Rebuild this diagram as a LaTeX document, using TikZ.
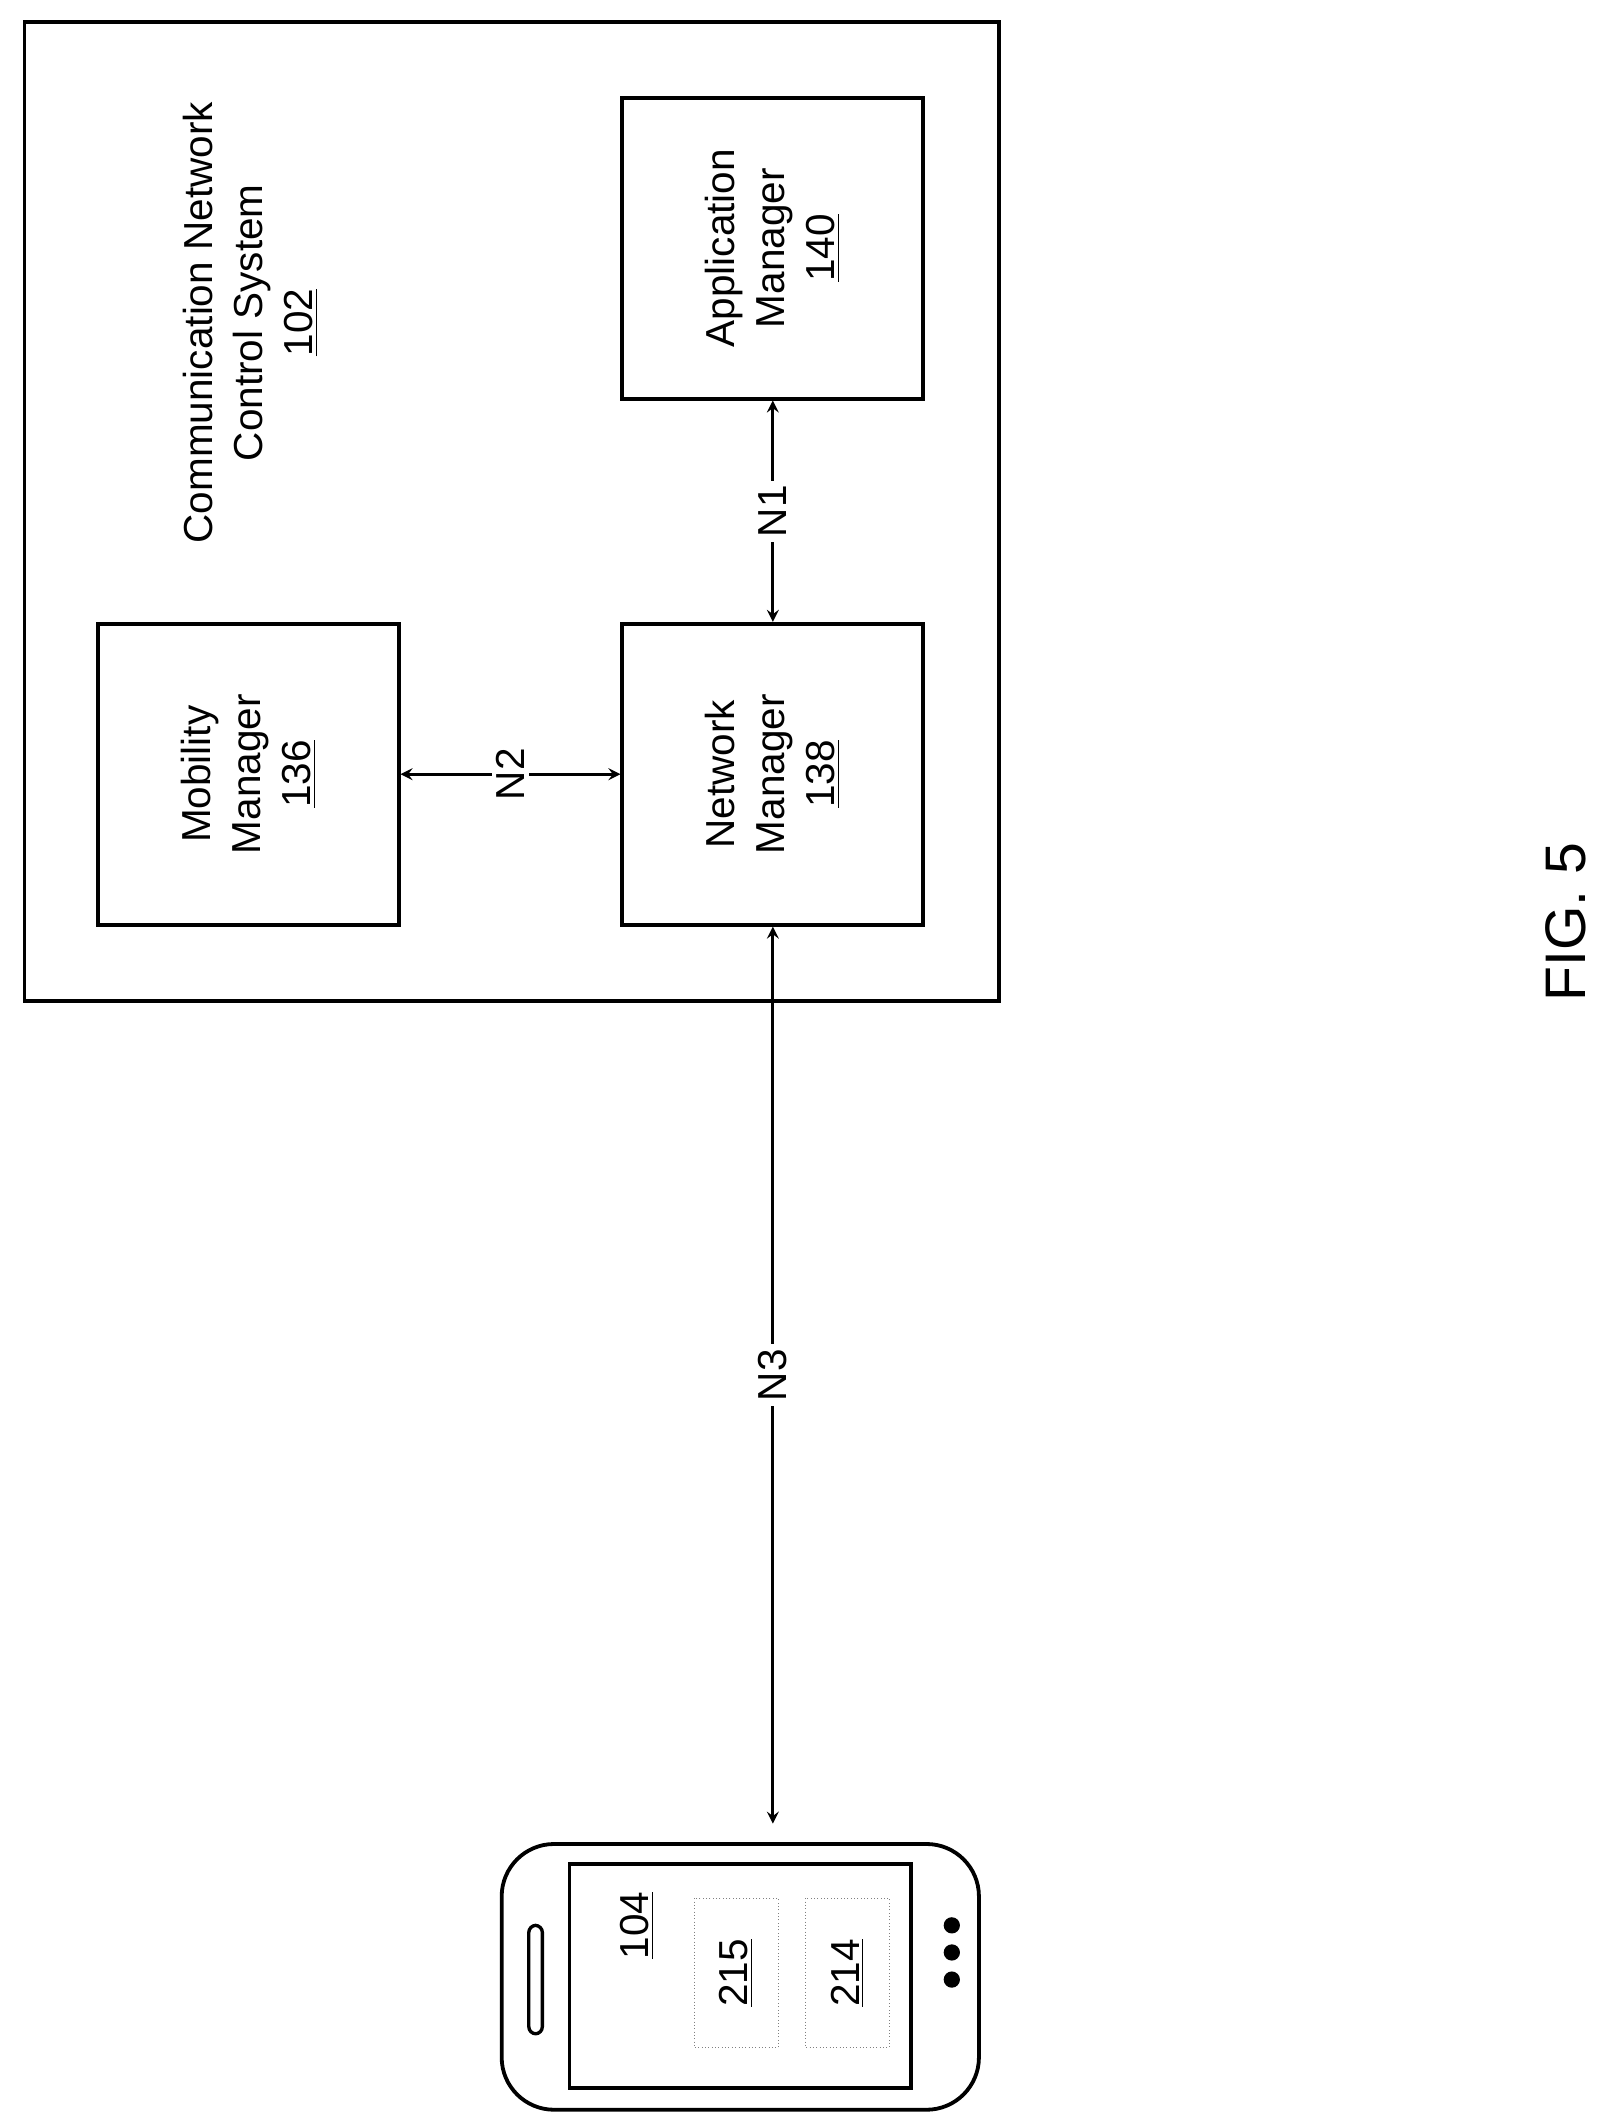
\documentclass[tikz,border=0pt]{standalone}
\usepackage{fontspec}
\setmainfont{Liberation Sans}
\begin{document}
\begin{tikzpicture}[x=0.02cm,y=-0.02cm,
  box/.style={draw,line width=1.6pt},
  txt/.style={rotate=90,align=center,font=\fontsize{17}{21}\selectfont},
  arr/.style={<->,>=stealth,line width=1.2pt},
  lab/.style={rotate=90,fill=white,inner sep=2pt,font=\fontsize{17}{21}\selectfont}]
\useasboundingbox (0,0) rectangle (1188,1568);
\node[box,minimum width=719*0.02cm,minimum height=722*0.02cm] (sys) at (377.5,377) {};
\node[txt] (title) at (185,238) {Communication Network\\Control System\\\underline{102}};
\node[box,minimum width=222*0.02cm,minimum height=222*0.02cm] (mm) at (183,571) {};
\node[txt] at (mm) {Mobility\\Manager\\\underline{136}};
\node[box,minimum width=222*0.02cm,minimum height=222*0.02cm] (nm) at (570,571) {};
\node[txt] at (nm) {Network\\Manager\\\underline{138}};
\node[box,minimum width=222*0.02cm,minimum height=222*0.02cm] (am) at (570,183) {};
\node[txt] at (am) {Application\\Manager\\\underline{140}};
\draw[arr] (nm.north) -- node[lab]{N1} (am.south);
\draw[arr] (mm.east) -- node[lab]{N2} (nm.west);
\coordinate (ph) at (570,1345);
\draw[arr] (nm.south) -- node[lab]{N3} (ph);
% phone
\draw[line width=1.6pt,rounded corners=22] (370,1360) rectangle (722,1556);
\draw[line width=1.6pt] (420,1375) rectangle (672,1540);
\draw[line width=1.4pt,rounded corners=3] (390,1420) rectangle (400,1500);
\foreach \y in {1420,1440,1460} \fill (702,\y) circle (6);
\node[txt] (n104) at (470,1420) {\underline{104}};
\draw[densely dotted,gray] (512,1400) rectangle (574,1510);
\node[txt] (n215) at (543,1455) {\underline{215}};
\draw[densely dotted,gray] (594,1400) rectangle (656,1510);
\node[txt] (n214) at (625,1455) {\underline{214}};
\node[rotate=90,font=\fontsize{24}{28}\selectfont] (fig) at (1155,680) {FIG. 5};
\end{tikzpicture}
\end{document}
